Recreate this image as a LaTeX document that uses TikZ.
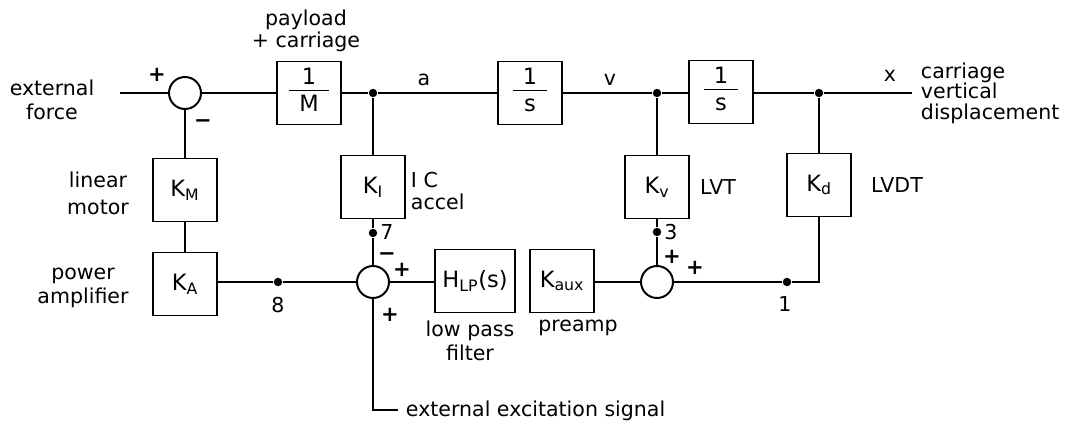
\documentclass[tikz,border=0pt]{standalone}
\usepackage{fontspec}
\setmainfont{DejaVu Sans}
\usepackage{tikz}
\usetikzlibrary{calc,positioning}

\newdimen\pxu \pxu=0.025cm
% fraction inside a block
\newcommand{\frc}[2]{\begin{tabular}{@{\hspace{7pt}}c@{\hspace{7pt}}}#1\\[-2pt]\hline\rule{0pt}{15pt}#2\end{tabular}}

\tikzset{
  blk/.style={draw, minimum width=64\pxu, minimum height=63\pxu, inner sep=1pt,
    font=\fontsize{16}{18}\selectfont},
  sumnode/.style={draw, circle, minimum size=32\pxu, inner sep=0pt},
  jdot/.style={circle, fill, inner sep=0pt, minimum size=6pt},
  lbl/.style={inner sep=0pt, align=center},
  sgn/.style={inner sep=0pt, font=\fontsize{15}{15}\bfseries}
}

\begin{document}
\begin{tikzpicture}[x=0.025cm, y=-0.025cm, line width=1.4pt,
    font=\fontsize{14.6}{17}\selectfont]

    \useasboundingbox (0,0) rectangle (1073,428);

    % Forward path
    \coordinate (fin) at (120,93);
    \node[sumnode] (s1) at (185,93) {};
    \node[blk] (invM) at (309,93) {\frc{1}{M}};
    \node[jdot] (dA) at (373,93) {};
    \node[blk] (int1) at (530,93) {\frc{1}{s}};
    \node[jdot] (dV) at (657,93) {};
    \node[blk] (int2) at (721,92) {\frc{1}{s}};
    \node[jdot] (dX) at (819,93) {};
    \coordinate (xout) at (912,93);

    % Sensor blocks
    \node[blk] (KM) at (185,190) {K\textsubscript{M}};
    \node[blk] (KI) at (373,187) {K\textsubscript{I}};
    \node[blk] (Kv) at (657,187) {K\textsubscript{v}};
    \node[blk] (Kd) at (819,185) {K\textsubscript{d}};

    % Lower row
    \node[blk] (KA) at (185,284) {K\textsubscript{A}};
    \node[jdot] (d8) at (278,282) {};
    \node[sumnode] (s2) at (373,282) {};
    \node[jdot] (d7) at (373,233) {};
    \node[blk, minimum width=80\pxu] (HLP) at (475,281) {H\textsubscript{LP}(s)};
    \node[blk] (Kaux) at (562,281) {K\textsubscript{aux}};
    \node[sumnode] (s3) at (657,282) {};
    \node[jdot] (d3) at (657,232) {};
    \node[jdot] (d1) at (787,282) {};
    \coordinate (exc) at (398,410);

    % Connectors
    \draw (fin) -- (s1) -- (invM);
    \draw (invM.east |- dA) -- (dA) -- (int1.west |- dA);
    \draw (int1.east |- dV) -- (dV) -- (int2.west |- dV);
    \draw (int2.east |- dX) -- (dX) -- (xout);
    \draw (s1) -- (KM) -- (KA);
    \draw (KA.east |- d8) -- (d8) -- (s2);
    \draw (dA) -- (KI) -- (d7) -- (s2);
    \draw (s2) -- (HLP.west |- s2);
    \draw (Kaux.east |- s3) -- (s3);
    \draw (dV) -- (Kv) -- (d3) -- (s3);
    \draw (s3) -- (d1) -| (Kd);
    \draw (dX) -- (Kd);
    \draw (s2) |- (exc);

    % Signs
    \node[sgn] (p1) at (157,75) {+};
    \node[sgn] (m1) at (203,124) {−};
    \node[sgn] (m2) at (387,257) {−};
    \node[sgn] (p2a) at (402,270) {+};
    \node[sgn] (p2b) at (390,315) {+};
    \node[sgn] (p3a) at (672,257) {+};
    \node[sgn] (p3b) at (695,268) {+};

    % Signal labels
    \node[lbl] (tA) at (424,80) {a};
    \node[lbl] (tV) at (610,80) {v};
    \node[lbl] (tX) at (890,76) {x};
    \node[lbl] (t8) at (278,305) {8};
    \node[lbl] (t7) at (387,232) {7};
    \node[lbl] (t3) at (671,232) {3};
    \node[lbl] (t1) at (785,304) {1};

    % Block labels
    \node[lbl] (tForce) at (52,100) {external\\force};
    \node[lbl, font=\fontsize{14.6}{15.5}\selectfont] (tLoad) at (306,31) {payload\\+ carriage};
    \node[lbl, align=left, anchor=west, font=\fontsize{14.6}{14.5}\selectfont] (tDisp) at (920,93) {carriage\\vertical\\displacement};
    \node[lbl, font=\fontsize{14.6}{19}\selectfont] (tMotor) at (98,193) {linear\\motor};
    \node[lbl] (tAmp) at (83,288) {power\\amplifier};
    \node[lbl, align=left, anchor=west, font=\fontsize{14.6}{16}\selectfont] (tAcc) at (410,191) {I C\\accel};
    \node[lbl] (tLVT) at (718,187) {LVT};
    \node[lbl] (tLVDT) at (897,185) {LVDT};
    \node[lbl] (tLP) at (470,341) {low pass\\filter};
    \node[lbl] (tPre) at (578,328) {preamp};
    \node[lbl, anchor=west] (tExc) at (405,411) {external excitation signal};

\end{tikzpicture}
\end{document}
